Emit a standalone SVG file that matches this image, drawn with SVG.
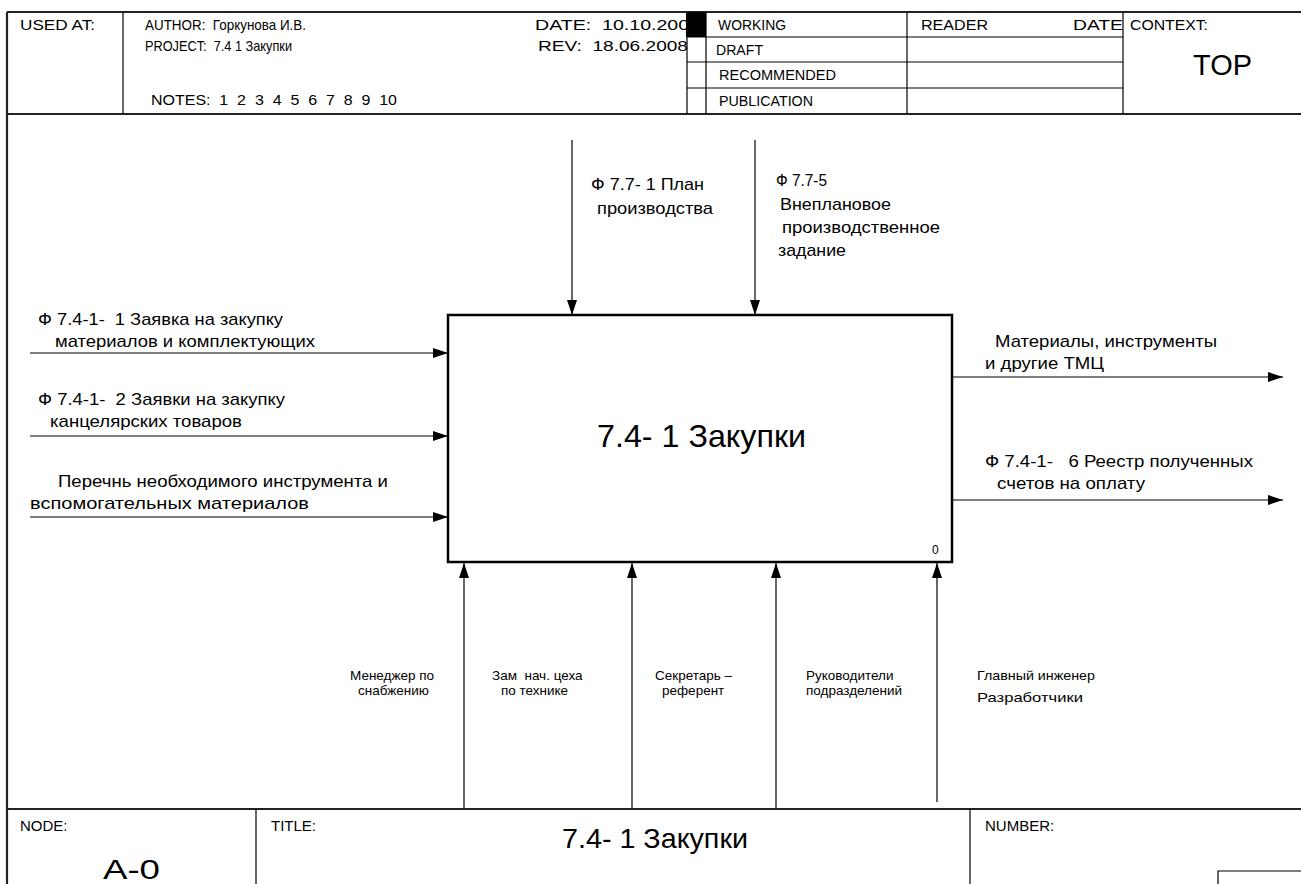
<svg xmlns="http://www.w3.org/2000/svg" width="1301" height="884" viewBox="0 0 1301 884" xml:space="preserve">
<style>
text{font-family:"Liberation Sans",Arial,sans-serif;fill:#000;white-space:pre}
.h{font-size:15px}
.l{font-size:17px}
.m{font-size:13.5px}
.frame{stroke:#000;stroke-width:1.2;fill:none}
.thick{stroke:#222;stroke-width:2.2;fill:none}
.arr{stroke:#000;stroke-width:1.2;fill:none;marker-end:url(#ah)}
</style>
<defs>
<marker id="ah" markerUnits="userSpaceOnUse" markerWidth="16" markerHeight="12" refX="15" refY="5" orient="auto">
<path d="M0,0 L15,5 L0,10 Z" fill="#000"/>
</marker>
</defs>
<rect width="1301" height="884" fill="#fff"/>

<g id="header">
<line class="thick" x1="7" y1="12" x2="1301" y2="12"/>
<line class="thick" x1="7" y1="114" x2="1301" y2="114"/>
<line class="thick" x1="7" y1="12" x2="7" y2="884"/>
<line class="frame" x1="123" y1="12" x2="123" y2="114"/>
<line class="frame" x1="907" y1="12" x2="907" y2="114"/>
<line class="frame" x1="687" y1="37" x2="1123" y2="37"/>
<line class="frame" x1="687" y1="62" x2="1123" y2="62"/>
<line class="frame" x1="687" y1="88" x2="1123" y2="88"/>
<text class="h" x="20" y="30" textLength="75" lengthAdjust="spacingAndGlyphs">USED AT:</text>
<text class="h" x="145" y="30" textLength="161" lengthAdjust="spacingAndGlyphs">AUTHOR:  Горкунова И.В.</text>
<text class="h" x="145" y="51" textLength="147" lengthAdjust="spacingAndGlyphs">PROJECT:  7.4 1 Закупки</text>
<text class="h" x="151" y="105" textLength="246" lengthAdjust="spacingAndGlyphs">NOTES:  1  2  3  4  5  6  7  8  9  10</text>
<text class="h" x="535" y="30" textLength="165" lengthAdjust="spacingAndGlyphs">DATE:  10.10.2008</text>
<text class="h" x="538" y="51" textLength="150" lengthAdjust="spacingAndGlyphs">REV:  18.06.2008</text>
<rect x="686" y="12" width="20" height="25" fill="#000"/>
<rect x="706.6" y="13" width="14" height="23" fill="#fff"/>
<line class="frame" x1="687" y1="12" x2="687" y2="114"/>
<line class="frame" x1="706" y1="12" x2="706" y2="114"/>
<text class="h" x="718" y="30" textLength="68" lengthAdjust="spacingAndGlyphs">WORKING</text>
<text class="h" x="716" y="55" textLength="47" lengthAdjust="spacingAndGlyphs">DRAFT</text>
<text class="h" x="719" y="80" textLength="117" lengthAdjust="spacingAndGlyphs">RECOMMENDED</text>
<text class="h" x="719" y="106" textLength="94" lengthAdjust="spacingAndGlyphs">PUBLICATION</text>
<text class="h" x="921" y="30" textLength="67" lengthAdjust="spacingAndGlyphs">READER</text>
<text class="h" x="1073" y="30" textLength="50" lengthAdjust="spacingAndGlyphs">DATE</text>
<line class="frame" x1="1123" y1="12" x2="1123" y2="114"/>
<text class="h" x="1130" y="30" textLength="78" lengthAdjust="spacingAndGlyphs">CONTEXT:</text>
<text x="1193" y="75" font-size="30" textLength="59" lengthAdjust="spacingAndGlyphs">TOP</text>
</g>

<g id="box">
<rect x="448" y="315" width="504" height="247" fill="none" stroke="#000" stroke-width="2.5"/>
<text x="597" y="447" font-size="32" textLength="209" lengthAdjust="spacingAndGlyphs">7.4- 1 Закупки</text>
<text x="932" y="554" font-size="12">0</text>
</g>

<g id="connectors">
<line class="arr" x1="572" y1="140" x2="572" y2="315"/>
<line class="arr" x1="755" y1="140" x2="755" y2="315"/>
<line class="arr" x1="30" y1="353" x2="448" y2="353"/>
<line class="arr" x1="30" y1="436" x2="448" y2="436"/>
<line class="arr" x1="30" y1="517" x2="448" y2="517"/>
<line class="arr" x1="952" y1="377" x2="1283" y2="377"/>
<line class="arr" x1="952" y1="500" x2="1283" y2="500"/>
<line class="arr" x1="464" y1="808" x2="464" y2="563"/>
<line class="arr" x1="632" y1="808" x2="632" y2="563"/>
<line class="arr" x1="776" y1="808" x2="776" y2="563"/>
<line class="arr" x1="937" y1="802" x2="937" y2="563"/>
</g>

<g id="labels">
<text class="l" x="591" y="190" textLength="113" lengthAdjust="spacingAndGlyphs">Ф 7.7- 1 План</text>
<text class="l" x="597" y="214" textLength="116" lengthAdjust="spacingAndGlyphs">производства</text>
<text class="l" x="776" y="186" textLength="51" lengthAdjust="spacingAndGlyphs">Ф 7.7-5</text>
<text class="l" x="780" y="210" textLength="111" lengthAdjust="spacingAndGlyphs">Внеплановое</text>
<text class="l" x="782" y="233" textLength="158" lengthAdjust="spacingAndGlyphs">производственное</text>
<text class="l" x="778" y="256" textLength="68" lengthAdjust="spacingAndGlyphs">задание</text>
<text class="l" x="38" y="325" textLength="245" lengthAdjust="spacingAndGlyphs">Ф 7.4-1-  1 Заявка на закупку</text>
<text class="l" x="55" y="347" textLength="260" lengthAdjust="spacingAndGlyphs">материалов и комплектующих</text>
<text class="l" x="38" y="405" textLength="247" lengthAdjust="spacingAndGlyphs">Ф 7.4-1-  2 Заявки на закупку</text>
<text class="l" x="50" y="427" textLength="192" lengthAdjust="spacingAndGlyphs">канцелярских товаров</text>
<text class="l" x="58" y="487" textLength="330" lengthAdjust="spacingAndGlyphs">Перечнь необходимого инструмента и</text>
<text class="l" x="30" y="509" textLength="279" lengthAdjust="spacingAndGlyphs">вспомогательных материалов</text>
<text class="l" x="995" y="347" textLength="222" lengthAdjust="spacingAndGlyphs">Материалы, инструменты</text>
<text class="l" x="985" y="369" textLength="119" lengthAdjust="spacingAndGlyphs">и другие ТМЦ</text>
<text class="l" x="985" y="467" textLength="268" lengthAdjust="spacingAndGlyphs">Ф 7.4-1-   6 Реестр полученных</text>
<text class="l" x="997" y="489" textLength="148" lengthAdjust="spacingAndGlyphs">счетов на оплату</text>
<text class="m" x="350" y="680">Менеджер по</text>
<text class="m" x="358" y="695">снабжению</text>
<text class="m" x="492" y="680">Зам  нач. цеха</text>
<text class="m" x="501" y="695">по технике</text>
<text class="m" x="655" y="680">Секретарь –</text>
<text class="m" x="662" y="695">референт</text>
<text class="m" x="806" y="680">Руководители</text>
<text class="m" x="806" y="695">подразделений</text>
<text class="m" x="977" y="680" textLength="118" lengthAdjust="spacingAndGlyphs">Главный инженер</text>
<text class="m" x="977" y="702" textLength="106" lengthAdjust="spacingAndGlyphs">Разработчики</text>
</g>

<g id="footer">
<line class="thick" x1="7" y1="809" x2="1301" y2="809"/>
<line class="frame" x1="256" y1="809" x2="256" y2="884"/>
<line class="frame" x1="970" y1="809" x2="970" y2="884"/>
<text class="h" x="20" y="831">NODE:</text>
<text class="h" x="271" y="831">TITLE:</text>
<text x="562" y="848" font-size="28" textLength="186" lengthAdjust="spacingAndGlyphs">7.4- 1 Закупки</text>
<text class="h" x="985" y="831">NUMBER:</text>
<text x="103" y="879" font-size="28" textLength="57" lengthAdjust="spacingAndGlyphs">A-0</text>
<polyline class="frame" points="1218,884 1218,871 1301,871"/>
</g>
</svg>
